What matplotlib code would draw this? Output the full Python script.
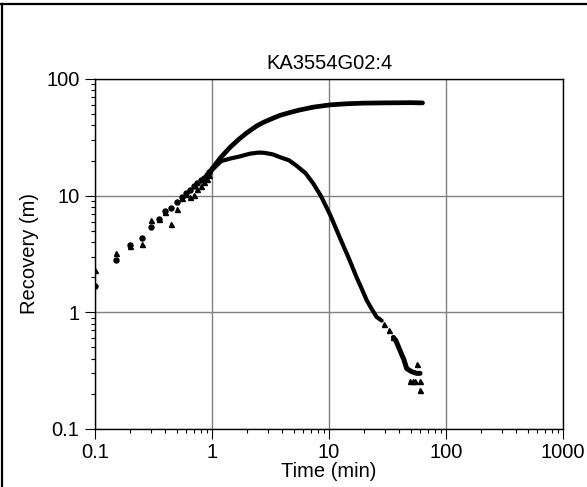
import numpy as np
import matplotlib
matplotlib.use("Agg")
from matplotlib import pyplot as plt
from matplotlib.lines import Line2D
from matplotlib.ticker import LogLocator, NullFormatter, FixedLocator, FixedFormatter

plt.rcParams['font.family'] = ['Liberation Sans', 'DejaVu Sans']

# early, sparse samples (min, m)
t_early = [0.1, 0.15, 0.2, 0.25, 0.3, 0.35, 0.4, 0.45, 0.5, 0.55, 0.6, 0.65,
           0.7, 0.75, 0.8, 0.85, 0.9, 0.95]
circ_early = [1.68, 2.79, 3.8, 4.37, 5.38, 6.35, 7.44, 7.89, 8.81, 9.73, 10.6,
              11.25, 12.0, 12.8, 13.5, 14.2, 15.0, 15.8]
tri_early = [2.29, 3.22, 3.70, 3.85, 6.14, 6.35, 7.3, 5.76, 7.63, 9.6, 10.3,
             9.67, 10.1, 11.4, 12.2, 13.0, 14.0, 15.0]

# dense part, upper curve (circles)
t_up = [0.95, 1.0, 1.2, 1.43, 1.7, 1.98, 2.4, 2.75, 3.3, 3.81, 4.6, 5.5, 7.35,
        10.2, 14.0, 19.6, 29.0, 43.0, 50.0, 63.0]
rec_up = [15.8, 17.0, 21.5, 26.0, 30.5, 34.5, 39.5, 42.5, 46.0, 48.8, 51.5,
          54.0, 57.4, 60.0, 61.3, 62.1, 62.4, 62.6, 62.7, 62.4]

# dense part, lower curve (triangles)
t_down = [0.95, 1.0, 1.2, 1.43, 1.73, 2.11, 2.5, 2.8, 3.3, 3.9, 4.55, 5.3, 6.3,
          7.3, 8.5, 10.2, 12.0, 13.3, 15.0, 17.2, 19.0, 21.0, 23.0, 25.6, 28.2]
rec_down = [15.0, 16.6, 19.8, 20.8, 21.7, 22.9, 23.4, 23.3, 22.6, 21.2, 20.1,
            18.0, 15.6, 12.8, 10.0, 6.9, 4.7, 3.7, 2.8, 2.0, 1.6, 1.27, 1.08,
            0.91, 0.85]

# tail of lower curve
t_band = [35.5, 37.2, 40.5, 43.8, 46.1, 50.9, 56.1, 60.0]
rec_band = [0.61, 0.575, 0.47, 0.39, 0.33, 0.31, 0.30, 0.30]
t_tail = [29.5, 32.6, 35.5, 56.1, 60.0, 54.3, 49.4, 60.0, 52.0]
rec_tail = [0.80, 0.70, 0.61, 0.36, 0.26, 0.256, 0.256, 0.218, 0.26]

x_ticks = [0.1, 1, 10, 100, 1000]
x_labels = ['0.1', '1', '10', '100', '1000']
y_ticks = [0.1, 1, 10, 100]
y_labels = ['0.1', '1', '10', '100']

fs = 14.5

fig = plt.figure(figsize=(5.87, 4.87), dpi=100)
ax = fig.add_axes([95 / 587, 1 - 429 / 487, (563 - 95) / 587, (429 - 79) / 487])

ax.set_xscale('log')
ax.set_yscale('log')

# dense stretches as a thick band
ax.plot(t_up, rec_up, '-', color='black', lw=3.4, solid_capstyle='round')
ax.plot(t_down, rec_down, '-', color='black', lw=3.0, solid_capstyle='round')
ax.plot(t_band, rec_band, '-', color='black', lw=3.6, solid_capstyle='round')

ax.plot(t_early, circ_early, 'o', color='black', ms=3.6, ls='none')
ax.plot(t_early, tri_early, '^', color='black', ms=3.6, ls='none')
ax.plot(t_tail, rec_tail, '^', color='black', ms=3.6, ls='none')

ax.set_xlim(0.1, 1000)
ax.set_ylim(0.1, 100)

ax.xaxis.set_major_locator(FixedLocator(x_ticks))
ax.xaxis.set_major_formatter(FixedFormatter(x_labels))
ax.yaxis.set_major_locator(FixedLocator(y_ticks))
ax.yaxis.set_major_formatter(FixedFormatter(y_labels))
ax.xaxis.set_minor_locator(LogLocator(base=10, subs=np.arange(2, 10), numticks=20))
ax.yaxis.set_minor_locator(LogLocator(base=10, subs=np.arange(2, 10), numticks=20))
ax.xaxis.set_minor_formatter(NullFormatter())
ax.yaxis.set_minor_formatter(NullFormatter())

ax.tick_params(which='major', direction='out', length=7.2, width=0.8,
               labelsize=fs, pad=3, colors='black')
ax.tick_params(which='minor', direction='out', length=3.2, width=0.8)
ax.tick_params(axis='y', which='major', pad=4)
ax.tick_params(top=False, right=False, which='both')

ax.grid(True, which='major', color='#808080', lw=1.0)
ax.set_axisbelow(True)
for s in ax.spines.values():
    s.set_color('black')
    s.set_linewidth(1.0)

ax.set_title('KA3554G02:4', fontsize=fs, pad=7)
ax.set_xlabel('Time (min)', fontsize=fs, labelpad=0)
ax.set_ylabel('Recovery (m)', fontsize=fs, labelpad=5)

# frame of the original page
fig.add_artist(Line2D([0, 1], [1 - 3.5 / 487, 1 - 3.5 / 487],
                      transform=fig.transFigure, color='black', lw=1.6))
fig.add_artist(Line2D([2 / 587, 2 / 587], [0, 1 - 3.5 / 487],
                      transform=fig.transFigure, color='black', lw=1.6))

fig.savefig('out.png', dpi=100)
